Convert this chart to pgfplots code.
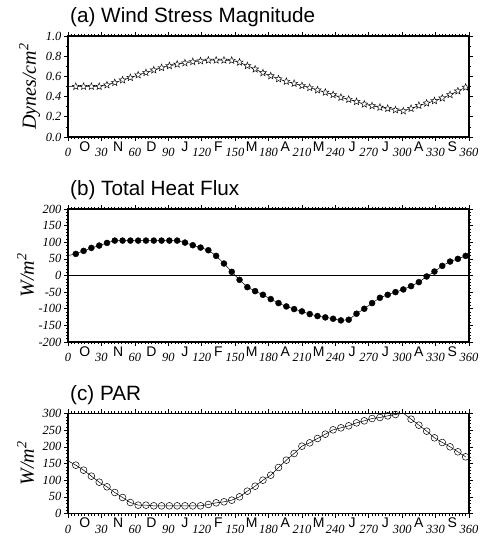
\documentclass[border=0pt]{standalone}
\usepackage{fontspec}
\setmainfont{Liberation Serif}
\setsansfont{Liberation Sans}
\usepackage{pgfplots}
\pgfplotsset{compat=1.18}
\usepackage{pgfplotstable}

\pgfdeclareplotmark{ostar}{%
  \pgfpathmoveto{\pgfpointpolar{90}{\pgfplotmarksize}}%
  \pgfpathlineto{\pgfpointpolar{126}{0.42\pgfplotmarksize}}%
  \pgfpathlineto{\pgfpointpolar{162}{\pgfplotmarksize}}%
  \pgfpathlineto{\pgfpointpolar{198}{0.42\pgfplotmarksize}}%
  \pgfpathlineto{\pgfpointpolar{234}{\pgfplotmarksize}}%
  \pgfpathlineto{\pgfpointpolar{270}{0.42\pgfplotmarksize}}%
  \pgfpathlineto{\pgfpointpolar{306}{\pgfplotmarksize}}%
  \pgfpathlineto{\pgfpointpolar{342}{0.42\pgfplotmarksize}}%
  \pgfpathlineto{\pgfpointpolar{18}{\pgfplotmarksize}}%
  \pgfpathlineto{\pgfpointpolar{54}{0.42\pgfplotmarksize}}%
  \pgfpathclose
  \pgfusepathqfillstroke
}

\pgfplotstableread{
x y
0 0.500
7 0.500
14 0.500
21 0.500
28 0.500
35 0.515
42 0.538
49 0.564
56 0.588
63 0.614
70 0.637
77 0.663
84 0.686
91 0.705
98 0.720
105 0.733
112 0.745
119 0.753
126 0.760
133 0.760
140 0.760
147 0.758
154 0.740
161 0.705
168 0.672
175 0.635
182 0.605
189 0.575
196 0.550
203 0.530
210 0.508
217 0.488
224 0.465
231 0.442
238 0.418
245 0.392
252 0.372
259 0.350
266 0.325
273 0.308
280 0.294
287 0.282
294 0.268
301 0.258
308 0.282
315 0.312
322 0.335
329 0.358
336 0.385
343 0.418
350 0.455
357 0.492
}\windtab

\pgfplotstableread{
x y
0 60
7 65
14 74
21 83
28 90
35 98
42 105
49 105
56 105
63 105
70 105
77 105
84 105
91 105
98 105
105 99
112 91
119 84
126 76
133 59
140 36
147 11
154 -13
161 -35
168 -47
175 -58
182 -71
189 -83
196 -93
203 -101
210 -108
217 -116
224 -122
231 -126
238 -130
245 -135
252 -133
259 -115
266 -100
273 -83
280 -67
287 -58
294 -50
301 -42
308 -32
315 -20
322 -3
329 12
336 29
343 42
350 50
357 59
}\heattab

\pgfplotstableread{
x y
0 158
7 145
14 130
21 112
28 94
35 80
42 63
49 48
56 33
63 25
70 25
77 23
84 23
91 23
98 23
105 23
112 23
119 23
126 27
133 32
140 35
147 40
154 50
161 67
168 82
175 100
182 115
189 138
196 160
203 180
210 202
217 212
224 225
231 238
238 251
245 257
252 263
259 272
266 278
273 285
280 288
287 293
294 297
301 301
308 283
315 265
322 247
329 227
336 213
343 200
350 185
357 170
}\partab

\pgfplotsset{
  panel/.style={
    width=401pt, scale only axis, xmin=0, xmax=360,
    xtick={0,30,...,360}, minor x tick num=9,
    tick align=outside,
    major tick length=4pt, minor tick length=2pt,
    axis line style={line width=1.2pt},
    every tick/.style={black, line width=0.6pt},
    /pgf/number format/assume math mode=true,
    tick label style={font=\itshape\fontsize{12.5}{14}\selectfont},
    yticklabel style={xshift=1pt},
    xticklabel style={yshift=-4pt},
    extra x ticks={15,45,...,345},
    extra x tick labels={O,N,D,J,F,M,A,M,J,J,A,S},
    extra x tick style={major tick length=0pt,
      tick label style={font=\sffamily\fontsize{14}{16}\selectfont, yshift=3pt}},
    title style={at={(0,1)}, anchor=base west, yshift=7pt, xshift=2pt,
      font=\sffamily\fontsize{20.7}{24}\selectfont, inner sep=0pt},
    ylabel style={at={(axis description cs:-0.08,0.5)}, anchor=base,
      font=\itshape\fontsize{20}{24}\selectfont},
    clip mode=individual,
  }
}

\begin{document}
\begin{tikzpicture}
\path[use as bounding box] (0,0) rectangle (484pt,537pt);

\begin{axis}[panel, at={(68pt,400pt)}, anchor=south west, height=101pt,
  ymin=0, ymax=1, ytick={0,0.2,...,1.0}, minor y tick num=1,
  yticklabel style={/pgf/number format/.cd, fixed, fixed zerofill, precision=1},
  title={(a) Wind Stress Magnitude},
  ylabel={Dynes/cm\textsuperscript{2}}]
\addplot[black, line width=0.5pt] table[x=x,y=y]{\windtab};
\addplot[only marks, mark=ostar, mark size=3.7pt,
  mark options={fill=white, draw=black, line width=0.45pt},
  restrict x to domain=1:400] table[x=x,y=y]{\windtab};
\end{axis}

\begin{axis}[panel, at={(68pt,195pt)}, anchor=south west, height=133pt,
  ymin=-200, ymax=200, ytick={-200,-150,...,200}, minor y tick num=4,
  title={(b) Total Heat Flux},
  ylabel={W/m\textsuperscript{2}},
  ylabel style={at={(axis description cs:-0.085,0.5)}}]
\addplot[black, line width=0.6pt] coordinates {(0,0) (360,0)};
\addplot[black, line width=0.5pt] table[x=x,y=y]{\heattab};
\addplot[only marks, mark=*, mark size=3pt,
  mark options={fill=black, draw=black},
  restrict x to domain=1:400] table[x=x,y=y]{\heattab};
\end{axis}

\begin{axis}[panel, at={(68pt,23.5pt)}, anchor=south west, height=100pt,
  ymin=0, ymax=300, ytick={0,50,...,300}, minor y tick num=4,
  title={(c) PAR},
  ylabel={W/m\textsuperscript{2}},
  ylabel style={at={(axis description cs:-0.085,0.5)}}]
\addplot[black, line width=0.5pt] table[x=x,y=y]{\partab};
\addplot[only marks, mark=o, mark size=3.4pt,
  mark options={fill=white, draw=black, line width=0.5pt},
  restrict x to domain=1:400] table[x=x,y=y]{\partab};
\end{axis}
\end{tikzpicture}
\end{document}
